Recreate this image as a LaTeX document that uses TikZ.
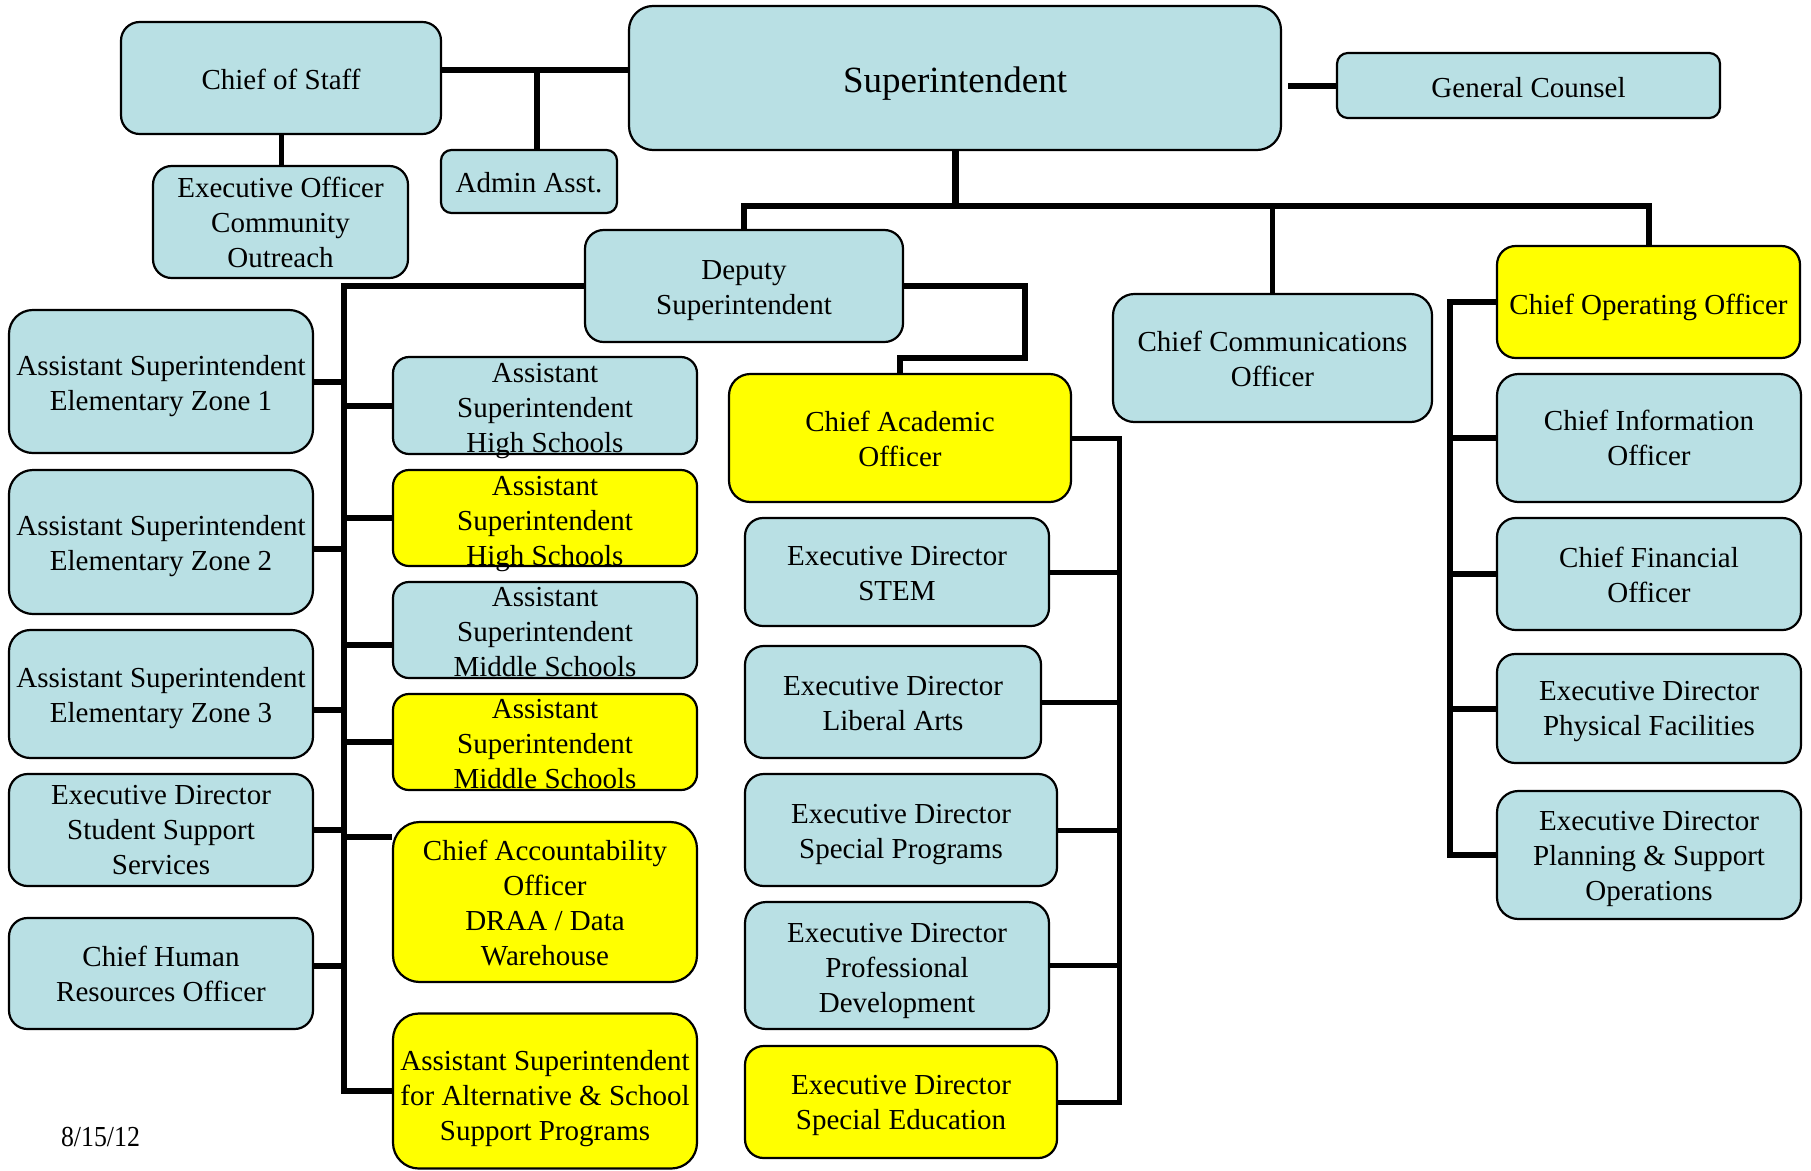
\documentclass[tikz,border=0pt]{standalone}
\usepackage{fontspec}
\setmainfont{Liberation Serif}
\usepackage{graphicx}
\definecolor{boxblue}{RGB}{185,224,228}
\definecolor{boxyellow}{RGB}{255,255,0}
% #1 name, #2 cx, #3 cy, #4 w, #5 h, #6 fill, #7 text, #8 text shift down
\newcommand{\orgbox}[8]{%
  \node[box, fill=#6, minimum width=#4pt, minimum height=#5pt, rounded corners=\fpeval{round(#5/6,2)}pt] (#1) at (#2,#3) {};
  \node[boxtext] (#1t) at ([yshift=-#8pt]#1.center) {#7};}
\begin{document}
\begin{tikzpicture}[x=1pt,y=-1pt,
  box/.style={draw=black, line width=2.2pt, inner sep=0pt},
  boxtext/.style={align=center, inner sep=0pt, text=black, font=\fontsize{29}{35}\selectfont},
  conn/.style={draw=black, line width=6pt, line join=miter}]
\useasboundingbox (0,0) rectangle (1811,1170);

% top row
\orgbox{cos}{281}{78}{320}{112}{boxblue}{Chief of Staff}{1}
\orgbox{eo}{280.5}{222}{255}{112}{boxblue}{Executive Officer\\Community\\Outreach}{0}
\orgbox{admin}{529}{181.5}{176}{63}{boxblue}{Admin Asst.}{1}
\node[box, fill=boxblue, minimum width=652pt, minimum height=144pt, rounded corners=24pt] (sup) at (955,78) {};
\node[boxtext, font=\fontsize{37}{42}\selectfont] (supt) at ([yshift=-6pt]sup.center) {Superintendent};
\orgbox{gc}{1528.5}{85.5}{383}{65}{boxblue}{General Counsel}{2}

% second level
\orgbox{dep}{744}{286}{318}{112}{boxblue}{Deputy\\Superintendent}{5}
\orgbox{cco}{1272.5}{358}{319}{128}{boxblue}{Chief Communications\\Officer}{1}
\orgbox{coo}{1648.5}{302}{303}{112}{boxyellow}{Chief Operating Officer}{5}

% left column
\orgbox{ez1}{161}{381.5}{304}{143}{boxblue}{Assistant Superintendent\\Elementary Zone 1}{5}
\orgbox{ez2}{161}{542}{304}{144}{boxblue}{Assistant Superintendent\\Elementary Zone 2}{4}
\orgbox{ez3}{161}{694}{304}{128}{boxblue}{Assistant Superintendent\\Elementary Zone 3}{4}
\orgbox{edss}{161}{830}{304}{112}{boxblue}{Executive Director\\Student Support\\Services}{0}
\orgbox{chro}{161}{973.5}{304}{111}{boxblue}{Chief Human\\Resources Officer}{0}

% second column
\orgbox{ash1}{545}{405.5}{304}{97}{boxblue}{Assistant\\Superintendent\\High Schools}{6}
\orgbox{ash2}{545}{518}{304}{96}{boxyellow}{Assistant\\Superintendent\\High Schools}{6}
\orgbox{asm1}{545}{630}{304}{96}{boxblue}{Assistant\\Superintendent\\Middle Schools}{2}
\orgbox{asm2}{545}{742}{304}{96}{boxyellow}{Assistant\\Superintendent\\Middle Schools}{2}
\orgbox{cacc}{545}{902}{304}{160}{boxyellow}{Chief Accountability\\Officer\\DRAA / Data\\Warehouse}{1}
\orgbox{asalt}{545}{1091}{304}{155}{boxyellow}{Assistant Superintendent\\for Alternative \& School\\Support Programs}{8}

% academic column
\orgbox{cao}{900}{438}{342}{128}{boxyellow}{Chief Academic\\Officer}{1}
\orgbox{stem}{897}{572}{304}{108}{boxblue}{Executive Director\\STEM}{2}
\orgbox{la}{893}{702}{296}{112}{boxblue}{Executive Director\\Liberal Arts}{2}
\orgbox{sp}{901}{830}{312}{112}{boxblue}{Executive Director\\Special Programs}{5}
\orgbox{pd}{897}{965.5}{304}{127}{boxblue}{Executive Director\\Professional\\Development}{5}
\orgbox{se}{901}{1102}{312}{112}{boxyellow}{Executive Director\\Special Education}{3}

% operations column
\orgbox{cio}{1649}{438}{304}{128}{boxblue}{Chief Information\\Officer}{0}
\orgbox{cfo}{1649}{574}{304}{112}{boxblue}{Chief Financial\\Officer}{1}
\orgbox{epf}{1649}{708.5}{304}{109}{boxblue}{Executive Director\\Physical Facilities}{3}
\orgbox{eps}{1649}{855}{304}{128}{boxblue}{Executive Director\\Planning \& Support\\Operations}{4}

\node[font=\fontsize{29}{32}\selectfont, inner sep=0pt] (date) at (100.5,1137) {\scalebox{0.89}[1]{8/15/12}};

% connectors: top
\coordinate (j1) at (537,70);
\draw[conn] (cos.east |- j1) -- (sup.west |- j1);
\draw[conn] (j1) -- (j1 |- admin.north);
\draw[conn, line width=5pt] (cos.south) -- (cos.south |- eo.north);
\draw[conn] (gc.west) -- ++(-48,0);
\coordinate (bus) at (955,206);
\draw[conn, line width=7pt] (sup.south) -- (bus);
\draw[conn] (dep.north) -- (dep.north |- bus) -- (coo.north |- bus) -- (coo.north);
\draw[conn, line width=5pt] (cco.north) -- (cco.north |- bus);

% deputy left trunk
\coordinate (lt) at (344,286);
\draw[conn] (dep.west) -- (lt) -- (lt |- asalt.west) -- (asalt.west);
\coordinate (ez1c) at (ez1.east);
\coordinate (ez2c) at ([yshift=-7pt]ez2.east);
\coordinate (ez3c) at ([yshift=-16pt]ez3.east);
\coordinate (edssc) at (edss.east);
\coordinate (chroc) at ([yshift=7.5pt]chro.east);
\foreach \c in {ez1c,ez2c,ez3c,edssc,chroc} \draw[conn] (\c) -- (\c -| lt);
\coordinate (ash1c) at (ash1.west);
\coordinate (ash2c) at (ash2.west);
\coordinate (asm1c) at ([yshift=-15pt]asm1.west);
\coordinate (asm2c) at (asm2.west);
\coordinate (caccc) at ([yshift=65pt]cacc.west);
\foreach \c in {ash1c,ash2c,asm1c,asm2c,caccc} \draw[conn] (\c -| lt) -- (\c);

% deputy to chief academic officer
\coordinate (dr) at (1025,358);
\draw[conn] (dep.east) -- (dep.east -| dr) -- (dr) -- (dr -| cao.north) -- (cao.north);

% academic trunk
\coordinate (rt) at (1119,438);
\draw[conn, line width=5pt] (cao.east) -- (rt) -- (rt |- se.east) -- (se.east);
\foreach \n in {stem,la,sp,pd} \draw[conn, line width=5pt] (\n.east) -- (\n.east -| rt);

% operations trunk
\coordinate (ct) at (1450,302);
\draw[conn] (coo.west) -- (ct) -- (ct |- eps.west) -- (eps.west);
\foreach \n in {cio,cfo,epf} \draw[conn] (ct |- \n.west) -- (\n.west);
\end{tikzpicture}
\end{document}
